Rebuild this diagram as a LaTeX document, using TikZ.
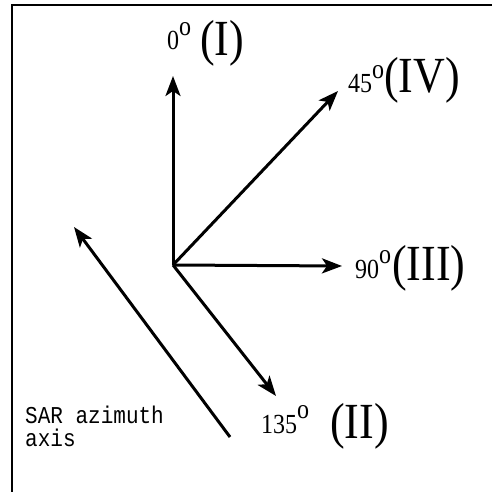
\documentclass[tikz,border=0pt]{standalone}
\usepackage{fontspec}
\setmainfont{Liberation Serif}
\newfontfamily\monofont{Liberation Mono}
\usetikzlibrary{arrows.meta}
\newcommand{\tallbox}[1]{\scalebox{1}[1.15]{#1}}
\begin{document}
\begin{tikzpicture}[x=1pt,y=-1pt,
  vec/.style={line width=3pt,-{Stealth[length=20pt,width=15pt,inset=5pt]}},
  frameline/.style={line width=2.6pt},
  numlbl/.style={inner sep=0pt,anchor=base west,font=\fontsize{24}{24}\selectfont},
  romlbl/.style={inner sep=0pt,anchor=base west,font=\fontsize{44}{44}\selectfont},
  note/.style={inner sep=0pt,anchor=base west,font=\monofont\fontsize{21}{21}\selectfont}]
\useasboundingbox (0,0) rectangle (492,492);
% frame (top and left edges only)
\draw[frameline] (12,492) -- (12,5) -- (492,5);
% origin and tips
\coordinate (o) at (173,265);
\coordinate (t0) at (173,76);
\coordinate (t45) at (338,91);
\coordinate (t90) at (342,266);
\coordinate (t135) at (276,396);
\coordinate (sarA) at (230,437);
\coordinate (sarB) at (74,227);
\draw[vec] (o) -- (t0);
\draw[vec] (o) -- (t45);
\draw[vec] (o) -- (t90);
\draw[vec] (o) -- (t135);
\draw[vec] (sarA) -- (sarB);
% labels
\node[numlbl] (n0) at (167,50) {\tallbox{0\raisebox{13pt}{o}}};
\node[romlbl] (r0) at (200,56) {\tallbox{(I)}};
\node[numlbl] (n45) at (348,93) {\tallbox{45\raisebox{13pt}{o}}};
\node[romlbl] (r45) at (384,93) {\tallbox{(IV)}};
\node[numlbl] (n90) at (355,278) {\tallbox{90\raisebox{13pt}{o}}};
\node[romlbl] (r90) at (392,280) {\tallbox{(III)}};
\node[numlbl] (n135) at (261,433) {\tallbox{135\raisebox{13pt}{o}}};
\node[romlbl] (r135) at (330,438) {\tallbox{(II)}};
\node[note] (sar1) at (25,423) {\tallbox{SAR azimuth}};
\node[note] (sar2) at (25,446) {\tallbox{axis}};
\end{tikzpicture}
\end{document}
